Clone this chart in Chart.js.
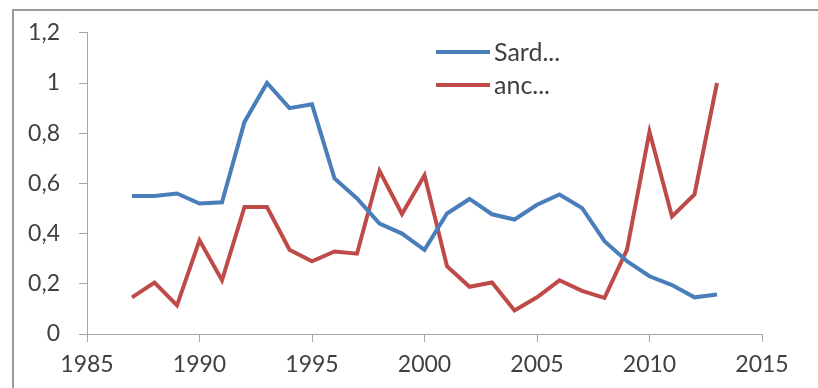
<!DOCTYPE html>
<html lang="fr">
  <head>
    <meta charset="utf-8" />
    <title>Sard / anc</title>
    <style>
      * {
        margin: 0;
        padding: 0;
      }
      body {
        background: #fff;
      }
    </style>
  </head>
  <body>
    <canvas id="myChart" width="818" height="388"></canvas>

    <script src="https://cdn.jsdelivr.net/npm/chart.js"></script>

    <script>
      const years = [
        1987, 1988, 1989, 1990, 1991, 1992, 1993, 1994, 1995, 1996, 1997, 1998, 1999,
        2000, 2001, 2002, 2003, 2004, 2005, 2006, 2007, 2008, 2009, 2010, 2011, 2012, 2013,
      ];
      const sard = [
        0.55, 0.55, 0.56, 0.52, 0.525, 0.845, 1.0, 0.9, 0.915, 0.62, 0.54, 0.44, 0.4,
        0.335, 0.48, 0.538, 0.477, 0.456, 0.515, 0.556, 0.502, 0.37, 0.29, 0.23, 0.195, 0.146, 0.157,
      ];
      const anc = [
        0.146, 0.205, 0.114, 0.373, 0.214, 0.506, 0.506, 0.336, 0.29, 0.329, 0.32, 0.65, 0.478,
        0.632, 0.27, 0.188, 0.205, 0.094, 0.146, 0.214, 0.172, 0.144, 0.336, 0.806, 0.468, 0.556, 1.0,
      ];
      const seriesNames = ["Sard...", "anc..."];
      const seriesColors = ["#4A7EBB", "#BE4B48"];

      const axisGrey = "#a6a6a6";
      const textGrey = "#404040";
      const fontFamily = "Lato, 'Open Sans', sans-serif";

      // frame around the whole chart (only top and left are visible)
      const frame = {
        id: "frame",
        beforeDraw(chart) {
          const { ctx } = chart;
          ctx.save();
          ctx.strokeStyle = "#9a9a9a";
          ctx.lineWidth = 2;
          ctx.beginPath();
          ctx.moveTo(13, 388);
          ctx.lineTo(13, 10);
          ctx.lineTo(818, 10);
          ctx.stroke();
          ctx.restore();
        },
      };

      // legend sitting inside the plot, stacked
      const innerLegend = {
        id: "innerLegend",
        afterDraw(chart) {
          const { ctx } = chart;
          ctx.save();
          chart.data.datasets.forEach((ds, i) => {
            const y = 52 + i * 33;
            ctx.strokeStyle = ds.borderColor;
            ctx.lineWidth = 4;
            ctx.beginPath();
            ctx.moveTo(436, y);
            ctx.lineTo(490, y);
            ctx.stroke();
            ctx.fillStyle = textGrey;
            ctx.font = "25px " + fontFamily;
            ctx.textAlign = "left";
            ctx.textBaseline = "middle";
            ctx.fillText(ds.label, 494, y + 1);
          });
          ctx.restore();
        },
      };

      const data = {
        datasets: [
          {
            label: seriesNames[0],
            data: years.map((x, i) => ({ x, y: sard[i] })),
            borderColor: seriesColors[0],
            borderWidth: 4,
            pointRadius: 0,
            tension: 0,
          },
          {
            label: seriesNames[1],
            data: years.map((x, i) => ({ x, y: anc[i] })),
            borderColor: seriesColors[1],
            borderWidth: 4,
            pointRadius: 0,
            tension: 0,
          },
        ],
      };

      const config = {
        type: "line",
        data,
        options: {
          responsive: false,
          animation: false,
          devicePixelRatio: 1,
          layout: {
            padding: { left: 0, top: 29, right: 56, bottom: 0 },
          },
          plugins: {
            legend: { display: false },
            tooltip: { enabled: false },
          },
          scales: {
            x: {
              type: "linear",
              min: 1985,
              max: 2015,
              afterFit(scale) {
                scale.height = 54;
              },
              grid: {
                drawOnChartArea: false,
                tickLength: 8,
                color: axisGrey,
              },
              border: { color: axisGrey },
              ticks: {
                stepSize: 5,
                padding: 9,
                color: textGrey,
                font: { family: fontFamily, size: 23 },
                callback: (v) => String(v),
              },
            },
            y: {
              min: 0,
              max: 1.2,
              afterFit(scale) {
                scale.width = 87;
              },
              grid: {
                drawOnChartArea: false,
                tickLength: 8,
                color: axisGrey,
              },
              border: { color: axisGrey },
              ticks: {
                stepSize: 0.2,
                padding: 19,
                color: textGrey,
                font: { family: fontFamily, size: 23 },
                callback: (v) => String(Math.round(v * 10) / 10).replace(".", ","),
              },
            },
          },
        },
        plugins: [frame, innerLegend],
      };

      const myChart = new Chart(document.getElementById("myChart"), config);
    </script>
  </body>
</html>
